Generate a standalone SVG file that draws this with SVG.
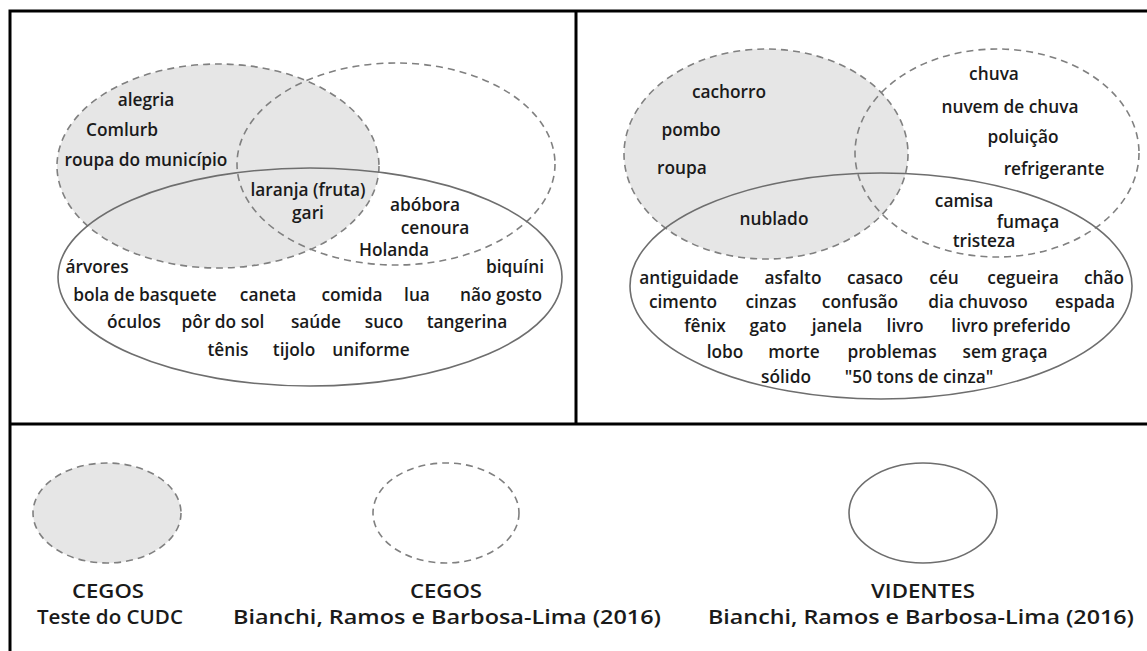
<svg xmlns="http://www.w3.org/2000/svg" width="1147" height="651" viewBox="0 0 1147 651">
<style>
text{font-family:"Open Sans","Noto Sans","DejaVu Sans",sans-serif;font-weight:600;font-size:17.3px;fill:#1a1a1a;text-anchor:middle}
.lg{font-size:19.5px}
.cegos{fill:#e6e6e6;stroke:#808080;stroke-width:1.6;stroke-dasharray:7 5}
.dash{fill:none;stroke:#808080;stroke-width:1.6;stroke-dasharray:7 5}
.solid{fill:none;stroke:#6e6e6e;stroke-width:1.6}
.frame{stroke:#000;stroke-width:3;fill:none}
</style>
<rect width="1147" height="651" fill="#fff"/>
<g id="frame">
<path class="frame" d="M10,651 V11 H1147 M576,11 V424 M10,424 H1147"/>
</g>
<g id="panel-left">
<g id="L-cegos-cudc"><ellipse class="cegos" cx="218" cy="166" rx="161" ry="102"/></g>
<g id="L-cegos-brb"><ellipse class="dash" cx="396" cy="164" rx="159" ry="101"/></g>
<g id="L-videntes"><ellipse class="solid" cx="310" cy="277" rx="252" ry="109"/></g>
<g id="L-labels">
<text x="146" y="106">alegria</text>
<text x="122" y="136">Comlurb</text>
<text x="146" y="166">roupa do município</text>
<text x="308" y="196">laranja (fruta)</text>
<text x="308" y="219">gari</text>
<text x="425" y="211">abóbora</text>
<text x="435" y="234">cenoura</text>
<text x="394" y="256">Holanda</text>
<text x="97" y="273">árvores</text>
<text x="515" y="273">biquíni</text>
<text x="145" y="301">bola de basquete</text>
<text x="268" y="301">caneta</text>
<text x="352" y="301">comida</text>
<text x="417" y="301">lua</text>
<text x="501" y="301">não gosto</text>
<text x="134" y="328">óculos</text>
<text x="223" y="328">pôr do sol</text>
<text x="316" y="328">saúde</text>
<text x="384" y="328">suco</text>
<text x="467" y="328">tangerina</text>
<text x="228" y="356">tênis</text>
<text x="294" y="356">tijolo</text>
<text x="371" y="356">uniforme</text>
</g>
</g>
<g id="panel-right">
<g id="R-cegos-cudc"><ellipse class="cegos" cx="766" cy="154" rx="142" ry="105"/></g>
<g id="R-cegos-brb"><ellipse class="dash" cx="997" cy="153" rx="142" ry="104"/></g>
<g id="R-videntes"><ellipse class="solid" cx="881" cy="286" rx="251" ry="113"/></g>
<g id="R-labels">
<text x="729" y="98">cachorro</text>
<text x="691" y="136">pombo</text>
<text x="682" y="174">roupa</text>
<text x="774" y="225">nublado</text>
<text x="994" y="80">chuva</text>
<text x="1010" y="113">nuvem de chuva</text>
<text x="1023" y="143">poluição</text>
<text x="1054" y="175">refrigerante</text>
<text x="964" y="207">camisa</text>
<text x="1028" y="228">fumaça</text>
<text x="984" y="247">tristeza</text>
<text x="689" y="284">antiguidade</text>
<text x="793" y="284">asfalto</text>
<text x="875" y="284">casaco</text>
<text x="944" y="284">céu</text>
<text x="1023" y="284">cegueira</text>
<text x="1104" y="284">chão</text>
<text x="683" y="308">cimento</text>
<text x="771" y="308">cinzas</text>
<text x="860" y="308">confusão</text>
<text x="978" y="308">dia chuvoso</text>
<text x="1085" y="308">espada</text>
<text x="705" y="332">fênix</text>
<text x="768" y="332">gato</text>
<text x="837" y="332">janela</text>
<text x="905" y="332">livro</text>
<text x="1011" y="332">livro preferido</text>
<text x="725" y="358">lobo</text>
<text x="794" y="358">morte</text>
<text x="892" y="358">problemas</text>
<text x="1005" y="358">sem graça</text>
<text x="786" y="383">sólido</text>
<text x="919" y="383">"50 tons de cinza"</text>
</g>
</g>
<g id="legend-cegos-cudc">
<ellipse class="cegos" cx="107" cy="513" rx="74" ry="50"/>
<text class="lg" x="108" y="598" textLength="72" lengthAdjust="spacingAndGlyphs">CEGOS</text>
<text class="lg" x="110" y="624" textLength="146" lengthAdjust="spacingAndGlyphs">Teste do CUDC</text>
</g>
<g id="legend-cegos-brb">
<ellipse class="dash" cx="446" cy="513" rx="73" ry="50"/>
<text class="lg" x="446" y="598" textLength="72" lengthAdjust="spacingAndGlyphs">CEGOS</text>
<text class="lg" x="447" y="624" textLength="428" lengthAdjust="spacingAndGlyphs">Bianchi, Ramos e Barbosa-Lima (2016)</text>
</g>
<g id="legend-videntes">
<ellipse class="solid" cx="923" cy="513" rx="74" ry="50"/>
<text class="lg" x="923" y="598" textLength="104" lengthAdjust="spacingAndGlyphs">VIDENTES</text>
<text class="lg" x="921" y="624" textLength="426" lengthAdjust="spacingAndGlyphs">Bianchi, Ramos e Barbosa-Lima (2016)</text>
</g>
</svg>
